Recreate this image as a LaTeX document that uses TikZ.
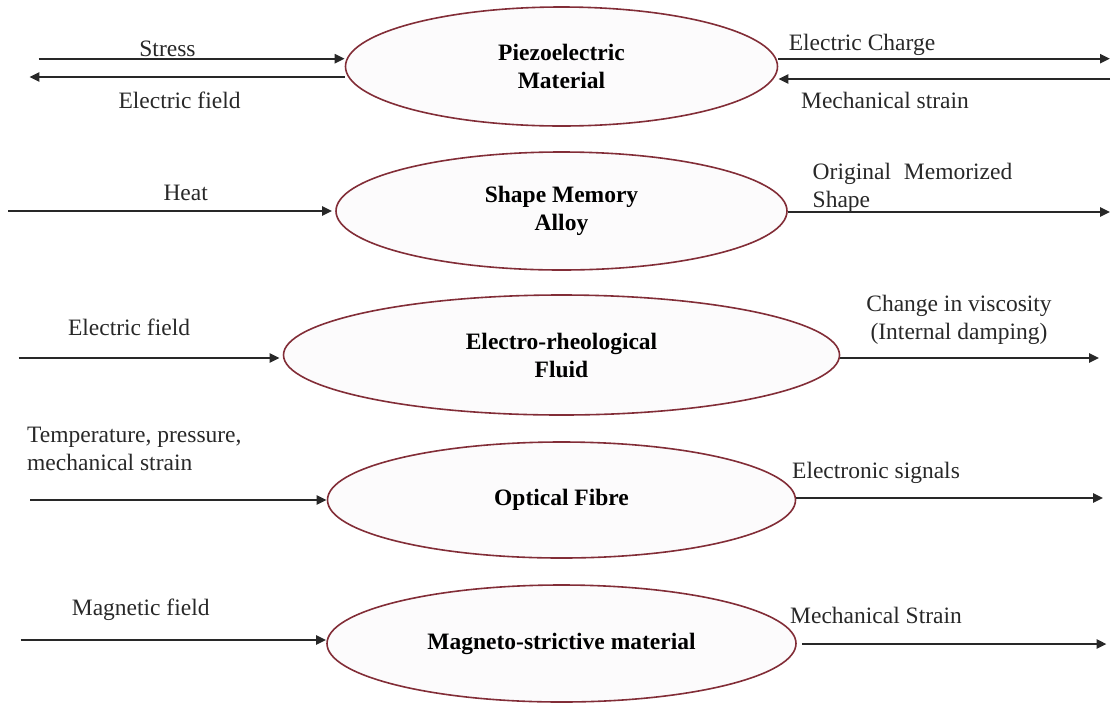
\documentclass[tikz,border=0pt]{standalone}
\usepackage{fontspec}
\setmainfont{Liberation Serif}
\usetikzlibrary{shapes.geometric,arrows.meta}
\definecolor{edgecol}{RGB}{130,45,55}
\definecolor{efill}{RGB}{252,251,252}
\definecolor{ink}{RGB}{40,40,40}
\begin{document}
\begin{tikzpicture}[x=1pt,y=-1pt,
  mat/.style={ellipse, draw=edgecol, line width=1.6pt, fill=efill, inner sep=0pt,
    align=center, font=\fontsize{23.5}{28}\selectfont\bfseries},
  lbl/.style={font=\fontsize{23.5}{28}\selectfont, text=ink, inner sep=0pt},
  arr/.style={draw=ink, line width=2.4pt, -{Triangle[length=10pt,width=9pt]}}]
\useasboundingbox (0,0) rectangle (1113,705);

% materials
\node[mat, minimum width=432pt, minimum height=119pt] (p1) at (561.5,66.5) {Piezoelectric\\Material};
\node[mat, minimum width=451pt, minimum height=118pt] (p2) at (561.5,211) {Shape Memory\\Alloy};
\node[mat, minimum width=556pt, minimum height=120pt] (p3) at (561.5,355) {Electro-rheological\\Fluid};
\node[mat, minimum width=468pt, minimum height=116pt] (p4) at (561.5,500) {Optical Fibre};
\node[mat, minimum width=469pt, minimum height=117pt] (p5) at (561.5,643.5) {Magneto-strictive material};

% free ends
\coordinate (a1) at (38.6,58.7);
\coordinate (b1) at (29.3,77);
\coordinate (c1) at (1110,58.7);
\coordinate (d1) at (1110,79);
\coordinate (a2) at (8,211);
\coordinate (c2) at (1110,212);
\coordinate (a3) at (18.6,358);
\coordinate (c3) at (1099,358);
\coordinate (a4) at (30.4,500);
\coordinate (c4) at (1103,498);
\coordinate (a5) at (20.7,640);
\coordinate (c5) at (1106.5,644);

% connectors
\draw[arr] (a1) -- (a1 -| p1.west);
\draw[arr] (b1 -| p1.west) -- (b1);
\draw[arr] (c1 -| p1.east) -- (c1);
\draw[arr] (d1) -- (d1 -| p1.east);
\draw[arr, shorten >=3pt] (a2) -- (a2 -| p2.west);
\draw[arr] (c2 -| p2.east) -- (c2);
\draw[arr, shorten >=3pt] (a3) -- (a3 -| p3.west);
\draw[arr] (c3 -| p3.east) -- (c3);
\draw[arr] (a4) -- (a4 -| p4.west);
\draw[arr] (c4 -| p4.east) -- (c4);
\draw[arr] (a5) -- (a5 -| p5.west);
\draw[arr, shorten <=5pt] (c5 -| p5.east) -- (c5);

% labels
\node[lbl] (l1a) at (167.5,49) {Stress};
\node[lbl] (l1b) at (179.5,100) {Electric field};
\node[lbl] (l1c) at (862,45) {Electric Charge};
\node[lbl] (l1d) at (885,100) {Mechanical strain};
\node[lbl] (l2a) at (185.7,193) {Heat};
\node[lbl, anchor=west, align=left] (l2b) at (812.5,187.5) {Original\hspace{0.55em}Memorized\\Shape};
\node[lbl] (l3a) at (129,327) {Electric field};
\node[lbl, align=center] (l3b) at (959,320) {Change in viscosity\\(Internal damping)};
\node[lbl, anchor=west, align=left] (l4a) at (27,448.5) {Temperature, pressure,\\mechanical strain};
\node[lbl] (l4b) at (876,473) {Electronic signals};
\node[lbl] (l5a) at (140.7,610) {Magnetic field};
\node[lbl] (l5b) at (876,615) {Mechanical Strain};
\end{tikzpicture}
\end{document}
